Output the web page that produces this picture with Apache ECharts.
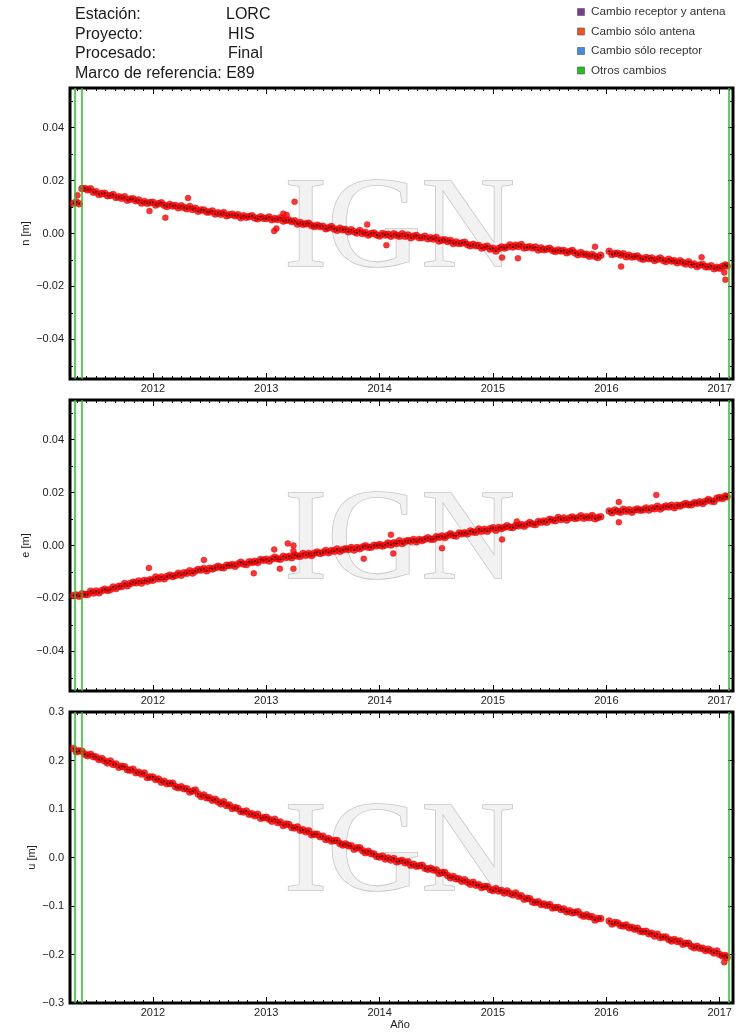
<!DOCTYPE html>
<html><head><meta charset="utf-8">
<script src="https://cdn.jsdelivr.net/npm/echarts@6/dist/echarts.min.js"></script>
<style>html,body{margin:0;padding:0;background:#fff}#c{width:743px;height:1033px}</style>
</head><body><div id="c"></div>
<script>
// ---- Header / legend texts ----
const headerLabels = ['Estación:', 'Proyecto:', 'Procesado:', 'Marco de referencia: E89'];
const headerValues = ['LORC', 'HIS', 'Final', ''];
const legendNames = ['Cambio receptor y antena', 'Cambio sólo antena', 'Cambio sólo receptor', 'Otros cambios'];
const legendColors = ['#7b3a93', '#f2501d', '#3a8ee8', '#22bf22'];
const axisNames = ['n [m]', 'e [m]', 'u [m]'];
const xAxisName = 'Año';

// ---- Axis ticks ----
const yearTicks = [2012, 2013, 2014, 2015, 2016, 2017];
const nLabelTicks = [-0.04, -0.02, 0, 0.02, 0.04];
const nMinorTicks = [-0.05, -0.03, -0.01, 0.01, 0.03, 0.05];
const uLabelTicks = [-0.3, -0.2, -0.1, 0, 0.1, 0.2, 0.3];

// ---- Change events (green lines) ----
const changeYears = [2011.31, 2011.37, 2017.08];

// ---- Epochs (decimal years) ----
const years = [
2011.300,2011.325,2011.350,2011.375,2011.400,2011.425,2011.450,2011.475,2011.500,2011.525,2011.550,2011.575,2011.600,2011.625,2011.650,2011.675,2011.700,2011.725,2011.750,2011.775,2011.800,2011.825,2011.850,2011.875,2011.900,2011.925,2011.950,2011.975,
2012.000,2012.025,2012.050,2012.075,2012.100,2012.125,2012.150,2012.175,2012.200,2012.225,2012.250,2012.275,2012.300,2012.325,2012.350,2012.375,2012.400,2012.425,2012.450,2012.475,2012.500,2012.525,2012.550,2012.575,2012.600,2012.625,2012.650,2012.675,2012.700,2012.725,2012.750,2012.775,2012.800,2012.825,2012.850,2012.875,2012.900,2012.925,2012.950,2012.975,
2013.000,2013.025,2013.050,2013.075,2013.100,2013.125,2013.150,2013.175,2013.200,2013.225,2013.250,2013.275,2013.300,2013.325,2013.350,2013.375,2013.400,2013.425,2013.450,2013.475,2013.500,2013.525,2013.550,2013.575,2013.600,2013.625,2013.650,2013.675,2013.700,2013.725,2013.750,2013.775,2013.800,2013.825,2013.850,2013.875,2013.900,2013.925,2013.950,2013.975,
2014.000,2014.025,2014.050,2014.075,2014.100,2014.125,2014.150,2014.175,2014.200,2014.225,2014.250,2014.275,2014.300,2014.325,2014.350,2014.375,2014.400,2014.425,2014.450,2014.475,2014.500,2014.525,2014.550,2014.575,2014.600,2014.625,2014.650,2014.675,2014.700,2014.725,2014.750,2014.775,2014.800,2014.825,2014.850,2014.875,2014.900,2014.925,2014.950,2014.975,
2015.000,2015.025,2015.050,2015.075,2015.100,2015.125,2015.150,2015.175,2015.200,2015.225,2015.250,2015.275,2015.300,2015.325,2015.350,2015.375,2015.400,2015.425,2015.450,2015.475,2015.500,2015.525,2015.550,2015.575,2015.600,2015.625,2015.650,2015.675,2015.700,2015.725,2015.750,2015.775,2015.800,2015.825,2015.850,2015.875,2015.900,2015.925,2015.950,
2016.025,2016.050,2016.075,2016.100,2016.125,2016.150,2016.175,2016.200,2016.225,2016.250,2016.275,2016.300,2016.325,2016.350,2016.375,2016.400,2016.425,2016.450,2016.475,2016.500,2016.525,2016.550,2016.575,2016.600,2016.625,2016.650,2016.675,2016.700,2016.725,2016.750,2016.775,2016.800,2016.825,2016.850,2016.875,2016.900,2016.925,2016.950,2016.975,
2017.000,2017.025,2017.050,2017.065
];

// ---- North component [m] ----
const nValues = [
.0114,.0119,.0112,.0170,.0170,.0165,.0169,.0156,.0158,.0147,.0151,.0152,.0143,.0144,.0147,.0136,.0139,.0133,.0139,.0126,.0130,.0131,.0124,.0127,.0115,.0121,.0114,.0117,
.0118,.0108,.0113,.0116,.0107,.0102,.0110,.0104,.0106,.0097,.0105,.0098,.0094,.0102,.0091,.0095,.0084,.0089,.0089,.0081,.0081,.0085,.0074,.0078,.0073,.0079,.0067,.0071,.0073,.0067,.0071,.0060,.0067,.0061,.0064,.0067,.0059,.0056,.0063,.0058,
.0057,.0062,.0052,.0057,.0053,.0060,.0047,.0050,.0051,.0045,.0048,.0036,.0042,.0035,.0037,.0039,.0030,.0026,.0031,.0026,.0027,.0018,.0022,.0026,.0017,.0012,.0020,.0014,.0015,.0007,.0014,.0007,.0002,.0011,.0000,.0004,-.0006,.0000,.0002,-.0006,
-.0009,.0000,-.0006,-.0003,-.0010,-.0001,-.0007,-.0010,-.0001,-.0010,-.0006,-.0016,-.0010,-.0008,-.0016,-.0015,-.0010,-.0020,-.0016,-.0021,-.0015,-.0028,-.0025,-.0024,-.0030,-.0026,-.0038,-.0032,-.0038,-.0036,-.0033,-.0042,-.0046,-.0041,-.0046,-.0045,-.0055,-.0051,-.0048,-.0059,
-.0056,-.0066,-.0057,-.0051,-.0055,-.0051,-.0043,-.0051,-.0044,-.0049,-.0042,-.0055,-.0052,-.0050,-.0055,-.0051,-.0062,-.0055,-.0061,-.0059,-.0056,-.0064,-.0068,-.0062,-.0066,-.0064,-.0073,-.0068,-.0064,-.0074,-.0080,-.0072,-.0079,-.0078,-.0086,-.0079,-.0086,-.0091,-.0082,
-.0067,-.0079,-.0076,-.0075,-.0081,-.0077,-.0088,-.0082,-.0089,-.0087,-.0085,-.0094,-.0097,-.0091,-.0095,-.0093,-.0102,-.0097,-.0093,-.0101,-.0106,-.0097,-.0104,-.0103,-.0111,-.0103,-.0110,-.0115,-.0107,-.0118,-.0115,-.0125,-.0119,-.0117,-.0126,-.0126,-.0122,-.0133,-.0128,
-.0131,-.0124,-.0119,-.0123
];
const nOutliers = [[2011.335,.0145],[2011.97,.0085],[2012.11,.0060],[2012.31,.0134],[2013.07,.0009],[2013.09,.0019],[2013.15,.0075],[2013.18,.0070],[2013.25,.0120],[2013.89,.0034],[2014.06,-.0044],[2015.08,-.0091],[2015.22,-.0094],[2015.90,-.0050],[2016.13,-.0125],[2016.84,-.0090],[2017.04,-.0147],[2017.05,-.0175]];

// ---- East component [m] ----
const eValues = [
-.0189,-.0187,-.0192,-.0182,-.0185,-.0185,-.0173,-.0180,-.0172,-.0179,-.0170,-.0165,-.0170,-.0166,-.0157,-.0163,-.0154,-.0155,-.0144,-.0152,-.0144,-.0139,-.0141,-.0134,-.0142,-.0132,-.0135,-.0129,
-.0131,-.0119,-.0126,-.0119,-.0126,-.0117,-.0112,-.0117,-.0113,-.0105,-.0112,-.0103,-.0105,-.0095,-.0104,-.0096,-.0091,-.0093,-.0087,-.0095,-.0086,-.0089,-.0084,-.0078,-.0083,-.0084,-.0075,-.0076,-.0072,-.0078,-.0070,-.0063,-.0070,-.0072,-.0061,-.0064,-.0060,-.0064,-.0053,-.0056,
-.0052,-.0059,-.0051,-.0044,-.0050,-.0052,-.0041,-.0045,-.0041,-.0046,-.0036,-.0040,-.0041,-.0030,-.0037,-.0030,-.0038,-.0029,-.0025,-.0030,-.0026,-.0019,-.0027,-.0019,-.0022,-.0013,-.0022,-.0016,-.0012,-.0015,-.0008,-.0017,-.0008,-.0012,-.0006,-.0001,-.0007,-.0007,.0001,-.0001,
.0004,-.0002,.0002,.0009,.0002,.0010,.0008,.0018,.0008,.0015,.0019,.0016,.0023,.0014,.0023,.0019,.0024,.0029,.0024,.0024,.0033,.0031,.0036,.0030,.0038,.0044,.0038,.0036,.0047,.0044,.0048,.0044,.0055,.0051,.0050,.0062,.0054,.0061,.0054,.0063,
.0067,.0058,.0068,.0064,.0069,.0075,.0069,.0068,.0076,.0075,.0079,.0073,.0080,.0087,.0081,.0079,.0091,.0088,.0093,.0088,.0099,.0096,.0094,.0106,.0098,.0104,.0096,.0104,.0108,.0102,.0105,.0112,.0103,.0109,.0105,.0113,.0101,.0106,.0109,
.0130,.0124,.0134,.0129,.0126,.0137,.0129,.0135,.0126,.0134,.0138,.0133,.0135,.0142,.0134,.0142,.0139,.0148,.0138,.0145,.0149,.0146,.0152,.0143,.0152,.0149,.0154,.0159,.0154,.0154,.0162,.0160,.0165,.0159,.0167,.0174,.0168,.0166,.0179,
.0181,.0178,.0187,.0184
];
const eOutliers = [[2011.965,-.0085],[2012.45,-.0055],[2012.89,-.0105],[2013.07,-.0015],[2013.12,-.0088],[2013.19,.0008],[2013.24,.0000],[2013.24,-.0021],[2013.24,-.0088],[2013.86,-.0050],[2014.10,.0041],[2014.12,-.0030],[2014.55,-.0010],[2015.08,.0023],[2015.21,.0091],[2016.11,.0164],[2016.11,.0088],[2016.44,.0191]];

// ---- Up component [m] ----
const uValues = [
.225,.218,.220,.219,.213,.210,.213,.208,.207,.202,.204,.199,.195,.199,.192,.193,.186,.188,.187,.181,.180,.182,.175,.176,.172,.174,.165,.166,
.166,.161,.162,.155,.157,.152,.153,.153,.146,.144,.146,.142,.142,.135,.137,.139,.131,.126,.129,.123,.123,.118,.120,.115,.111,.115,.107,.108,.101,.103,.101,.095,.094,.096,.089,.090,.086,.089,.081,.082,
.083,.079,.075,.079,.072,.073,.066,.069,.068,.062,.061,.063,.056,.057,.053,.055,.047,.048,.048,.043,.044,.037,.039,.034,.035,.035,.029,.026,.028,.024,.024,.017,.020,.020,.014,.010,.013,.008,.007,.002,
.001,.003,-.003,-.001,-.005,-.002,-.009,-.007,-.006,-.011,-.009,-.016,-.014,-.018,-.017,-.016,-.022,-.024,-.022,-.026,-.026,-.033,-.031,-.031,-.037,-.042,-.039,-.044,-.044,-.049,-.046,-.051,-.055,-.051,-.057,-.056,-.062,-.060,-.060,-.066,
-.068,-.064,-.069,-.068,-.073,-.069,-.074,-.077,-.073,-.080,-.079,-.086,-.084,-.085,-.092,-.093,-.091,-.097,-.096,-.099,-.097,-.104,-.103,-.103,-.107,-.106,-.112,-.110,-.114,-.113,-.112,-.118,-.121,-.118,-.122,-.122,-.129,-.126,-.126,
-.131,-.137,-.134,-.135,-.140,-.141,-.139,-.145,-.144,-.148,-.146,-.152,-.153,-.152,-.157,-.156,-.162,-.158,-.165,-.164,-.164,-.169,-.172,-.169,-.173,-.172,-.179,-.177,-.177,-.183,-.186,-.183,-.187,-.187,-.192,-.189,-.193,-.197,-.193,
-.200,-.203,-.202,-.206
];
const uOutliers = [[2017.04,-.216]];

// ================= chart =================
const XMIN = 2011.269, XMAX = 2017.117;
const FONT = '"Liberation Sans", Arial, sans-serif';
const monthTicks = [];
for (let y = 2011; y <= 2017; y++) for (let m = 1; m < 12; m++) { const t = y + m / 12; if (t > XMIN && t < XMAX) monthTicks.push(t); }

const panels = [
  { top: 88, height: 291, min: -0.055, max: 0.055, labels: nLabelTicks, minor: nMinorTicks, dec: 2, vals: nValues, out: nOutliers, name: axisNames[0], nameX: 26 },
  { top: 400, height: 291, min: -0.055, max: 0.055, labels: nLabelTicks, minor: nMinorTicks, dec: 2, vals: eValues, out: eOutliers, name: axisNames[1], nameX: 26 },
  { top: 712, height: 291, min: -0.3, max: 0.3, labels: uLabelTicks, minor: [], dec: 1, vals: uValues, out: uOutliers, name: axisNames[2], nameX: 32 }
];
const GL = 70, GR = 733;
const fmtY = d => v => (v < -1e-9 ? '\u2212' : '') + Math.abs(v).toFixed(d);

const grid = [], xAxis = [], yAxis = [], series = [], graphic = [];
panels.forEach((p, g) => {
  grid.push({ left: GL, width: GR - GL, top: p.top, height: p.height, show: true, borderColor: '#000', borderWidth: 3, backgroundColor: 'transparent' });
  const xb = { type: 'value', gridIndex: g, min: XMIN, max: XMAX, axisLine: { show: false, onZero: false }, splitLine: { show: false }, axisLabel: { show: false } };
  const tk = (vals, len) => ({ show: true, inside: true, length: len, customValues: vals, lineStyle: { color: '#000', width: 1 } });
  xAxis.push(Object.assign({}, xb, { position: 'bottom', axisTick: tk(yearTicks, 6),
    axisLabel: { show: true, customValues: yearTicks, formatter: v => String(Math.round(v)), fontSize: 11, color: '#222', margin: 4, fontFamily: FONT } }));
  xAxis.push(Object.assign({}, xb, { position: 'bottom', axisTick: tk(monthTicks, 3) }));
  xAxis.push(Object.assign({}, xb, { position: 'top', axisTick: tk(yearTicks, 6) }));
  xAxis.push(Object.assign({}, xb, { position: 'top', axisTick: tk(monthTicks, 3) }));
  const yb = { type: 'value', gridIndex: g, min: p.min, max: p.max, axisLine: { show: false, onZero: false }, splitLine: { show: false }, axisLabel: { show: false } };
  yAxis.push(Object.assign({}, yb, { position: 'left', axisTick: tk(p.labels, 5),
    axisLabel: { show: true, customValues: p.labels, formatter: fmtY(p.dec), fontSize: 11, color: '#222', margin: 6, fontFamily: FONT } }));
  yAxis.push(Object.assign({}, yb, { position: 'left', axisTick: tk(p.minor.length ? p.minor : p.labels, 3) }));
  yAxis.push(Object.assign({}, yb, { position: 'right', axisTick: tk(p.labels, 5) }));
  yAxis.push(Object.assign({}, yb, { position: 'right', axisTick: tk(p.minor.length ? p.minor : p.labels, 3) }));

  const pts = years.map((t, i) => [t, p.vals[i]]);
  series.push({ type: 'scatter', xAxisIndex: g * 4, yAxisIndex: g * 4, data: pts, symbol: 'circle', symbolSize: 7,
    itemStyle: { color: '#ff0000', borderColor: '#d00000', borderWidth: 0.4 }, silent: true, z: 3 });
  series.push({ type: 'scatter', xAxisIndex: g * 4, yAxisIndex: g * 4, data: p.out, symbol: 'circle', symbolSize: 6,
    itemStyle: { color: '#ff0000', borderColor: '#d00000', borderWidth: 0.4 }, silent: true, z: 3 });
  series.push({ type: 'scatter', xAxisIndex: g * 4, yAxisIndex: g * 4, data: pts, symbol: 'circle', symbolSize: 2,
    itemStyle: { color: '#000', opacity: 0.8 }, silent: true, z: 4,
    markLine: { silent: true, symbol: 'none', label: { show: false }, animation: false,
      lineStyle: { color: '#22c322', width: 1.5, type: 'solid' }, data: changeYears.map(x => ({ xAxis: x })) } });

  const cy = p.top + p.height / 2;
  graphic.push({ type: 'text', z: 0, silent: true, style: { text: 'IGN', x: (GL + GR) / 2 - 2, y: cy - 2, font: '130px "Liberation Serif", "DejaVu Serif", serif',
    align: 'center', verticalAlign: 'middle', fill: '#f2f2f2', stroke: '#c6c6c6', lineWidth: 1.6 } });
  graphic.push({ type: 'text', silent: true, rotation: Math.PI / 2, x: p.nameX, y: cy,
    style: { text: p.name, font: '11px ' + FONT, fill: '#222', align: 'center', verticalAlign: 'middle' } });
});
graphic.push({ type: 'text', silent: true, style: { text: xAxisName, x: 400, y: 1025, font: '11px ' + FONT, fill: '#222', align: 'center', verticalAlign: 'middle' } });

// header
const hy = [14.5, 34.5, 54, 74];
headerLabels.forEach((t, i) => {
  graphic.push({ type: 'text', silent: true, style: { text: t, x: 75, y: hy[i], font: '16px ' + FONT, fill: '#1a1a1a', verticalAlign: 'middle' } });
  if (headerValues[i]) graphic.push({ type: 'text', silent: true, style: { text: headerValues[i], x: i === 0 ? 226 : 228, y: hy[i], font: '16px ' + FONT, fill: '#1a1a1a', verticalAlign: 'middle' } });
});
// legend
const ly = [12, 31.5, 51, 70.5];
legendNames.forEach((t, i) => {
  graphic.push({ type: 'rect', silent: true, shape: { x: 577.5, y: ly[i] - 3.5, width: 7, height: 7 }, style: { fill: legendColors[i], stroke: '#555', lineWidth: 0.6 } });
  graphic.push({ type: 'text', silent: true, style: { text: t, x: 591, y: ly[i], font: '11.7px ' + FONT, fill: '#333', verticalAlign: 'middle' } });
});

const chart = echarts.init(document.getElementById('c'), null, { renderer: 'canvas' });
chart.setOption({ animation: false, backgroundColor: '#fff', grid, xAxis, yAxis, series, graphic });
</script>
</body></html>
